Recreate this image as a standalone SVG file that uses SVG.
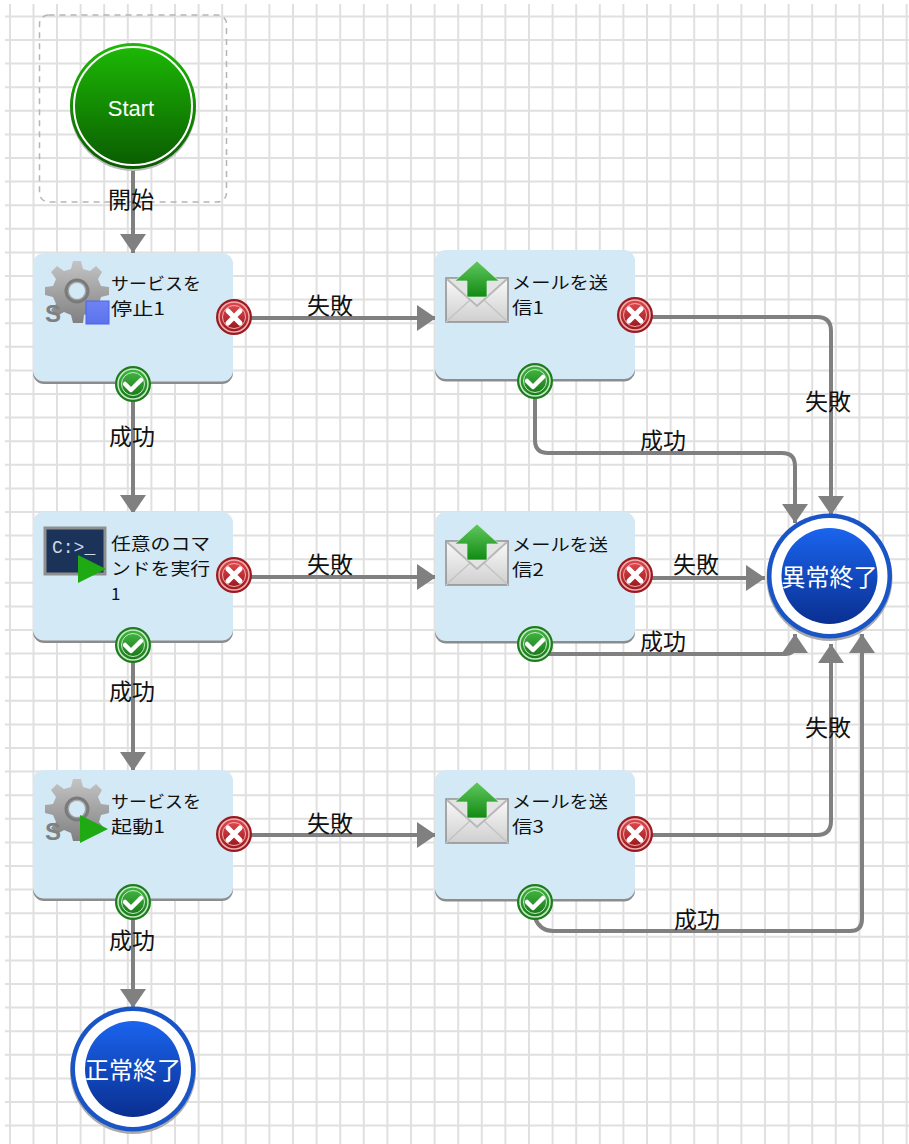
<svg xmlns="http://www.w3.org/2000/svg" xmlns:xlink="http://www.w3.org/1999/xlink" width="909" height="1144" viewBox="0 0 909 1144">
<style>
text{font-family:"Noto Sans CJK JP","Liberation Sans",sans-serif}
.grid{stroke:#e0e0e0;stroke-width:2;fill:none}
.edge{stroke:#808080;stroke-width:4;fill:none;marker-end:url(#arrow)}
.lbl{font-size:23px;fill:#111;text-anchor:middle}
.ntx{font-size:17px;fill:#111}
.task{fill:#d4e9f6}
.shadow{fill:#8c8c8c}
.end{font-size:24px;fill:#fff;text-anchor:middle}
</style>
<defs>
<marker id="arrow" markerUnits="userSpaceOnUse" markerWidth="20" markerHeight="28" refX="19" refY="14" orient="auto"><path d="M0 1L19 14L0 27Z" fill="#808080"/></marker>
<linearGradient id="gG" x1="0" y1="0" x2="0" y2="1"><stop offset="0" stop-color="#1dbb05"/><stop offset="1" stop-color="#0a5a00"/></linearGradient>
<linearGradient id="gB" x1="0" y1="0" x2="0" y2="1"><stop offset="0" stop-color="#1a64ee"/><stop offset="1" stop-color="#0a2f90"/></linearGradient>
<linearGradient id="gR" x1="0" y1="0" x2="0" y2="1"><stop offset="0" stop-color="#e0464c"/><stop offset="1" stop-color="#9a1a20"/></linearGradient>
<linearGradient id="gK" x1="0" y1="0" x2="0" y2="1"><stop offset="0" stop-color="#3fb33f"/><stop offset="1" stop-color="#1a7a1a"/></linearGradient>
<linearGradient id="gA" x1="0" y1="0" x2="0" y2="1"><stop offset="0" stop-color="#60c860"/><stop offset="1" stop-color="#128a12"/></linearGradient>
<linearGradient id="gM" x1="0" y1="0" x2="0" y2="1"><stop offset="0" stop-color="#fafafa"/><stop offset="1" stop-color="#cfcfcf"/></linearGradient>
<linearGradient id="gS" x1="0" y1="0" x2="0" y2="1"><stop offset="0" stop-color="#c4c4c4"/><stop offset="1" stop-color="#808080"/></linearGradient>
<linearGradient id="gT" x1="0" y1="0" x2="0" y2="1"><stop offset="0" stop-color="#6f84f2"/><stop offset="1" stop-color="#5a72ee"/></linearGradient>
<g id="red">
<circle r="18" fill="#9a1a20"/><circle r="15" fill="url(#gR)" stroke="#f0b0b0" stroke-width="1.5"/><circle r="11.5" fill="url(#gR)" stroke="#f0b0b0" stroke-width="1"/>
<path d="M-6 -6L6 6M6 -6L-6 6" stroke="#fff" stroke-width="5" stroke-linecap="round"/>
</g>
<g id="ok">
<circle r="18" fill="#1d7d1d"/><circle r="15" fill="url(#gK)" stroke="#c8eac8" stroke-width="1.5"/><circle r="11.5" fill="url(#gK)" stroke="#c8eac8" stroke-width="1"/>
<path d="M-8 0L-2 6L8 -4" stroke="#fff" stroke-width="4.5" fill="none" stroke-linecap="round" stroke-linejoin="round"/>
</g>
<g id="gear">
<path d="M25 -1L33 -1L35 7L42 9L48 4L54 10L50 17L53 24L61 25L61 33L53 35L51 42L56 48L50 54L43 50L36 53L35 61L25 61L23 53L16 50L9 54L3 48L8 42L5 35L-3 33L-3 25L5 24L8 17L3 10L9 4L16 9L23 7Z" fill="url(#gS)" transform="translate(0,-1)"/>
<circle cx="29" cy="28" r="8" fill="#d4e9f6"/>
<circle cx="29" cy="28" r="11" fill="none" stroke="#7a7a7a" stroke-width="3"/>
<text x="-3" y="59" style="font-family:'Liberation Sans',sans-serif;font-size:24px;font-weight:bold;fill:#808080">S</text>
</g>
<g id="mail">
<path d="M0 0H62V44H0Z" fill="url(#gM)" stroke="#8e8e8e" stroke-width="1.5"/>
<path d="M0 44L24 22M62 44L38 22" stroke="#c4c4c4" stroke-width="1.5" fill="none"/>
<path d="M1 1L31 28L61 1" fill="#e4e4e4" stroke="#b8b8b8" stroke-width="2"/>
<path d="M31 -17L9 3H21V19H41V3H53Z" fill="url(#gA)" stroke="#d8f0d8" stroke-width="0.7"/>
</g>
<path id="play" d="M0 0L28 14L0 28Z" fill="#1faa14"/>
</defs>
<rect width="909" height="1144" fill="#fff"/>
<g id="grid">
<path class="grid" d="M10 4V1144M33.5 4V1144M57 4V1144M80.6 4V1144M104.2 4V1144M127.8 4V1144M151.4 4V1144M175 4V1144M198.6 4V1144M222.2 4V1144M245.8 4V1144M269.4 4V1144M293 4V1144M316.6 4V1144M340.2 4V1144M363.8 4V1144M387.4 4V1144M411 4V1144M434.6 4V1144M458.2 4V1144M481.8 4V1144M505.4 4V1144M529 4V1144M552.6 4V1144M576.2 4V1144M599.8 4V1144M623.4 4V1144M647 4V1144M670.6 4V1144M694.2 4V1144M717.8 4V1144M741.4 4V1144M765 4V1144M788.6 4V1144M812.2 4V1144M835.8 4V1144M859.4 4V1144M883 4V1144M906.6 4V1144"/>
<path class="grid" d="M5 16.5H909M5 40H909M5 63.6H909M5 87.2H909M5 110.8H909M5 134.4H909M5 158H909M5 181.6H909M5 205.2H909M5 228.8H909M5 252.4H909M5 276H909M5 299.6H909M5 323.2H909M5 346.8H909M5 370.4H909M5 394H909M5 417.6H909M5 441.2H909M5 464.8H909M5 488.4H909M5 512H909M5 535.6H909M5 559.2H909M5 582.8H909M5 606.4H909M5 630H909M5 653.6H909M5 677.2H909M5 700.8H909M5 724.4H909M5 748H909M5 771.6H909M5 795.2H909M5 818.8H909M5 842.4H909M5 866H909M5 889.6H909M5 913.2H909M5 936.8H909M5 960.4H909M5 984H909M5 1007.6H909M5 1031.2H909M5 1054.8H909M5 1078.4H909M5 1102H909M5 1125.6H909"/>
</g>
<rect id="start-frame" x="39.5" y="15" width="187" height="187" rx="9" fill="none" stroke="#b5b5b5" stroke-width="1.5" stroke-dasharray="6 5"/>
<g id="connectors">
<path class="edge" d="M133 170V253"/>
<path class="edge" d="M133 400V514"/>
<path class="edge" d="M133 660V771"/>
<path class="edge" d="M133 917V1008"/>
<path class="edge" d="M250 318H436"/>
<path class="edge" d="M250 577H436"/>
<path class="edge" d="M250 835H436"/>
<path class="edge" d="M652 317H817Q831 317 831 331V515"/>
<path class="edge" d="M535 398V440Q535 453 548 453H782Q795 453 795 466V523"/>
<path class="edge" d="M652 578H765"/>
<path class="edge" d="M540 654H785Q795 654 795 644V634"/>
<path class="edge" d="M652 835H817Q831 835 831 821V644"/>
<path class="edge" d="M535 918Q540 931 553 931H850Q862 931 862 919V634"/>
</g>
<g id="edge-labels">
<text class="lbl" x="131" y="208">開始</text>
<text class="lbl" x="132" y="445">成功</text>
<text class="lbl" x="132" y="700">成功</text>
<text class="lbl" x="132" y="949">成功</text>
<text class="lbl" x="330" y="314">失敗</text>
<text class="lbl" x="330" y="573">失敗</text>
<text class="lbl" x="330" y="832">失敗</text>
<text class="lbl" x="828" y="410">失敗</text>
<text class="lbl" x="663" y="449">成功</text>
<text class="lbl" x="696" y="573">失敗</text>
<text class="lbl" x="663" y="650">成功</text>
<text class="lbl" x="828" y="736">失敗</text>
<text class="lbl" x="697" y="928">成功</text>
</g>
<g id="start">
<circle cx="133" cy="108" r="63" fill="#bbb"/>
<circle cx="133" cy="106" r="63" fill="url(#gG)"/>
<circle cx="133" cy="106" r="59" fill="none" stroke="#fff" stroke-width="2"/>
<text x="131" y="116" style="font-family:'Liberation Sans',sans-serif;font-size:22px;fill:#fff;text-anchor:middle">Start</text>
</g>
<g id="stop-service">
<rect class="shadow" x="33" y="255" width="200" height="129" rx="11"/>
<rect class="task" x="33" y="253" width="200" height="128.5" rx="11"/>
<use xlink:href="#gear" href="#gear" x="48" y="263"/>
<rect x="86" y="301" width="23" height="23" fill="url(#gT)" stroke="#4f63e8" stroke-width="1"/>
<text class="ntx" x="111" y="290" textLength="90" lengthAdjust="spacingAndGlyphs">サービスを</text>
<text class="ntx" x="111" y="315" textLength="54" lengthAdjust="spacingAndGlyphs">停止1</text>
<use xlink:href="#red" href="#red" x="234" y="317"/>
<use xlink:href="#ok" href="#ok" x="133" y="384"/>
</g>
<g id="run-command">
<rect class="shadow" x="33" y="514" width="200" height="129" rx="11"/>
<rect class="task" x="33" y="512" width="200" height="128.5" rx="11"/>
<rect x="45" y="528" width="60" height="46" fill="#1b3358" stroke="#8f8f8f" stroke-width="3"/>
<text x="52" y="553" style="font-family:'Liberation Mono',monospace;font-size:18px;fill:#cfd8e4">C:&gt;_</text>
<use xlink:href="#play" href="#play" x="78" y="555"/>
<text class="ntx" x="111" y="550" textLength="99" lengthAdjust="spacingAndGlyphs">任意のコマ</text>
<text class="ntx" x="111" y="575" textLength="99" lengthAdjust="spacingAndGlyphs">ンドを実行</text>
<text class="ntx" x="111" y="600">1</text>
<use xlink:href="#red" href="#red" x="234" y="575"/>
<use xlink:href="#ok" href="#ok" x="133" y="645"/>
</g>
<g id="start-service">
<rect class="shadow" x="33" y="772" width="200" height="129" rx="11"/>
<rect class="task" x="33" y="770" width="200" height="128.5" rx="11"/>
<use xlink:href="#gear" href="#gear" x="48" y="781"/>
<use xlink:href="#play" href="#play" x="80" y="815"/>
<text class="ntx" x="111" y="808" textLength="90" lengthAdjust="spacingAndGlyphs">サービスを</text>
<text class="ntx" x="111" y="833" textLength="54" lengthAdjust="spacingAndGlyphs">起動1</text>
<use xlink:href="#red" href="#red" x="234" y="834"/>
<use xlink:href="#ok" href="#ok" x="133" y="902"/>
</g>
<g id="mail1">
<rect class="shadow" x="435" y="252" width="200" height="129.5" rx="11"/>
<rect class="task" x="435" y="250" width="200" height="129" rx="11"/>
<use xlink:href="#mail" href="#mail" x="446" y="278"/>
<text class="ntx" x="512" y="289" textLength="96" lengthAdjust="spacingAndGlyphs">メールを送</text>
<text class="ntx" x="512" y="314" textLength="32" lengthAdjust="spacingAndGlyphs">信1</text>
<use xlink:href="#red" href="#red" x="635" y="315"/>
<use xlink:href="#ok" href="#ok" x="535" y="381"/>
</g>
<g id="mail2">
<rect class="shadow" x="435" y="514" width="200" height="129.5" rx="11"/>
<rect class="task" x="435" y="512" width="200" height="129" rx="11"/>
<use xlink:href="#mail" href="#mail" x="446" y="541"/>
<text class="ntx" x="512" y="551" textLength="96" lengthAdjust="spacingAndGlyphs">メールを送</text>
<text class="ntx" x="512" y="576" textLength="32" lengthAdjust="spacingAndGlyphs">信2</text>
<use xlink:href="#red" href="#red" x="635" y="575"/>
<use xlink:href="#ok" href="#ok" x="535" y="644"/>
</g>
<g id="mail3">
<rect class="shadow" x="435" y="772" width="200" height="129.5" rx="11"/>
<rect class="task" x="435" y="770" width="200" height="129" rx="11"/>
<use xlink:href="#mail" href="#mail" x="446" y="799"/>
<text class="ntx" x="512" y="808" textLength="96" lengthAdjust="spacingAndGlyphs">メールを送</text>
<text class="ntx" x="512" y="833" textLength="32" lengthAdjust="spacingAndGlyphs">信3</text>
<use xlink:href="#red" href="#red" x="635" y="834"/>
<use xlink:href="#ok" href="#ok" x="535" y="902"/>
</g>
<g id="error-end">
<circle cx="829.5" cy="578" r="63" fill="#aaa"/>
<circle cx="829.5" cy="576" r="62.5" fill="#1a55c8"/>
<circle cx="829.5" cy="576" r="58" fill="#fff"/>
<circle cx="829.5" cy="576" r="48" fill="url(#gB)"/>
<text class="end" x="829.5" y="586">異常終了</text>
</g>
<g id="normal-end">
<circle cx="133" cy="1071" r="63" fill="#aaa"/>
<circle cx="133" cy="1069" r="62.5" fill="#1a55c8"/>
<circle cx="133" cy="1069" r="58" fill="#fff"/>
<circle cx="133" cy="1069" r="48" fill="url(#gB)"/>
<text class="end" x="133" y="1079">正常終了</text>
</g>
</svg>
